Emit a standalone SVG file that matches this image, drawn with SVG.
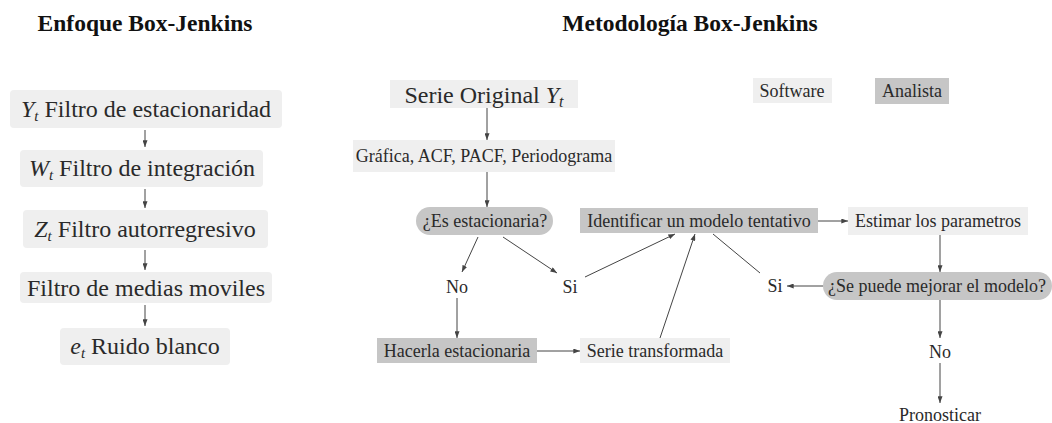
<svg xmlns="http://www.w3.org/2000/svg" width="1052" height="423" viewBox="0 0 1052 423">
<style>
text{font-family:"Liberation Serif","Times New Roman",serif;fill:#2a2a2a;text-anchor:middle}
.title{font-size:23.5px;font-weight:bold;fill:#111}
.big{font-size:24px}
.mid{font-size:18px}
.lt{fill:#efefef}
.dk{fill:#c6c6c6}
.it{font-style:italic}
.c{stroke:#444;stroke-width:1;fill:none}
</style>
<defs>
<marker id="ah" viewBox="0 0 8 6" refX="8" refY="3" markerWidth="7" markerHeight="5" orient="auto" markerUnits="userSpaceOnUse">
<path d="M0,0 L8,3 L0,6 z" fill="#444"/>
</marker>
</defs>
<rect width="1052" height="423" fill="#fff"/>
<text class="title" x="145" y="31">Enfoque Box-Jenkins</text>
<text class="title" x="690" y="31">Metodología Box-Jenkins</text>

<g id="connectors">
<line class="c" x1="145" y1="130" x2="145" y2="147" marker-end="url(#ah)"/>
<line class="c" x1="145" y1="189" x2="145" y2="208" marker-end="url(#ah)"/>
<line class="c" x1="145" y1="250" x2="145" y2="270" marker-end="url(#ah)"/>
<line class="c" x1="145" y1="305" x2="145" y2="326" marker-end="url(#ah)"/>
<line class="c" x1="487" y1="108" x2="487" y2="140" marker-end="url(#ah)"/>
<line class="c" x1="487" y1="172" x2="487" y2="207" marker-end="url(#ah)"/>
<line class="c" x1="478" y1="237" x2="462" y2="272" marker-end="url(#ah)"/>
<line class="c" x1="503" y1="237" x2="557" y2="273" marker-end="url(#ah)"/>
<line class="c" x1="457" y1="298" x2="457" y2="338" marker-end="url(#ah)"/>
<line class="c" x1="537" y1="351" x2="580" y2="351" marker-end="url(#ah)"/>
<line class="c" x1="585" y1="277" x2="675" y2="234" marker-end="url(#ah)"/>
<line class="c" x1="660" y1="338" x2="695" y2="234" marker-end="url(#ah)"/>
<line class="c" x1="760" y1="273" x2="713" y2="234"/>
<line class="c" x1="818" y1="221" x2="848" y2="221" marker-end="url(#ah)"/>
<line class="c" x1="940" y1="235" x2="940" y2="272" marker-end="url(#ah)"/>
<line class="c" x1="823" y1="286" x2="787" y2="286" marker-end="url(#ah)"/>
<line class="c" x1="940" y1="300" x2="940" y2="338" marker-end="url(#ah)"/>
<line class="c" x1="940" y1="363" x2="940" y2="403" marker-end="url(#ah)"/>
</g>

<g id="n-yt"><rect class="lt" x="10" y="90" width="272" height="38" rx="4"/>
<text class="big" x="146" y="117"><tspan class="it">Y</tspan><tspan class="it" font-size="15" dy="4">t</tspan><tspan dy="-4"> Filtro de estacionaridad</tspan></text></g>
<g id="n-wt"><rect class="lt" x="20" y="150" width="243" height="37" rx="4"/>
<text class="big" x="142" y="176"><tspan class="it">W</tspan><tspan class="it" font-size="15" dy="4">t</tspan><tspan dy="-4"> Filtro de integración</tspan></text></g>
<g id="n-zt"><rect class="lt" x="23" y="210" width="245" height="38" rx="4"/>
<text class="big" x="145" y="237"><tspan class="it">Z</tspan><tspan class="it" font-size="15" dy="4">t</tspan><tspan dy="-4"> Filtro autorregresivo</tspan></text></g>
<g id="n-ma"><rect class="lt" x="20" y="272" width="252" height="31" rx="4"/>
<text class="big" x="146" y="296">Filtro de medias moviles</text></g>
<g id="n-et"><rect class="lt" x="60" y="328" width="170" height="37" rx="4"/>
<text class="big" x="145" y="354"><tspan class="it">e</tspan><tspan class="it" font-size="15" dy="4">t</tspan><tspan dy="-4"> Ruido blanco</tspan></text></g>

<g id="n-serie"><rect class="lt" x="390" y="80" width="188" height="28"/>
<text class="big" x="484" y="103" font-size="27">Serie Original <tspan class="it">Y</tspan><tspan class="it" font-size="16" dy="4">t</tspan></text></g>
<g id="n-graf"><rect class="lt" x="353" y="140" width="262" height="32"/>
<text class="mid" x="484" y="162">Gráfica, ACF, PACF, Periodograma</text></g>
<g id="n-software"><rect class="lt" x="753" y="78" width="79" height="25"/>
<text class="mid" x="792" y="97">Software</text></g>
<g id="n-analista"><rect class="dk" x="875" y="78" width="74" height="26"/>
<text class="mid" x="912" y="97">Analista</text></g>
<g id="n-esta"><rect class="dk" x="416" y="207" width="137" height="28" rx="14"/>
<text class="mid" x="485" y="227">¿Es estacionaria?</text></g>
<g id="n-no1"><text class="mid" x="457" y="293">No</text></g>
<g id="n-si1"><text class="mid" x="570" y="293">Si</text></g>
<g id="n-hacer"><rect class="dk" x="377" y="338" width="160" height="25"/>
<text class="mid" x="457" y="357">Hacerla estacionaria</text></g>
<g id="n-transf"><rect class="lt" x="580" y="338" width="150" height="25"/>
<text class="mid" x="655" y="357">Serie transformada</text></g>
<g id="n-ident"><rect class="dk" x="580" y="208" width="238" height="25"/>
<text class="mid" x="699" y="227">Identificar un modelo tentativo</text></g>
<g id="n-estim"><rect class="lt" x="848" y="207" width="180" height="28"/>
<text class="mid" x="938" y="227">Estimar los parametros</text></g>
<g id="n-mejor"><rect class="dk" x="823" y="272" width="229" height="28" rx="14"/>
<text class="mid" x="937" y="292">¿Se puede mejorar el modelo?</text></g>
<g id="n-si2"><text class="mid" x="775" y="292">Si</text></g>
<g id="n-no2"><text class="mid" x="940" y="358">No</text></g>
<g id="n-pron"><text class="mid" x="940" y="421">Pronosticar</text></g>
</svg>
